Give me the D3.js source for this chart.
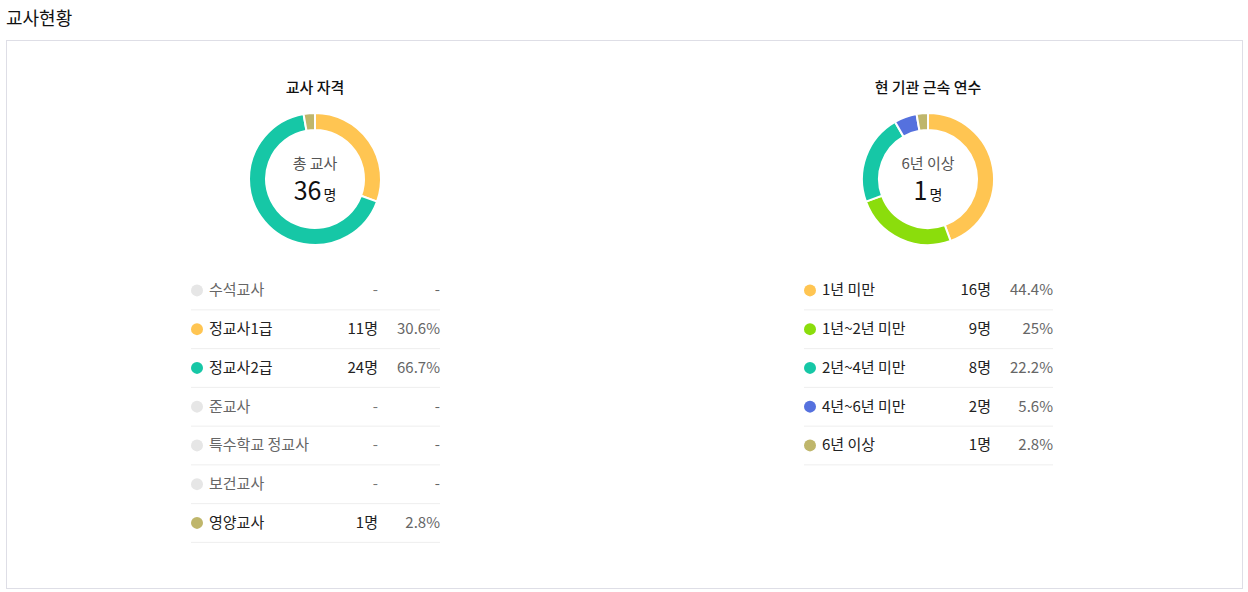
<!DOCTYPE html>
<html>
<head>
<meta charset="utf-8">
<script src="https://cdn.jsdelivr.net/npm/d3@7"></script>
<style>
  body { margin: 0; background: #fff; font-family: "Noto Sans CJK KR", "Noto Sans", sans-serif; }
</style>
</head>
<body>
<div id="chart"></div>
<script>
// 교사 자격
var qualLabels = ["수석교사", "정교사1급", "정교사2급", "준교사", "특수학교 정교사", "보건교사", "영양교사"];
var qualCounts = [0, 11, 24, 0, 0, 0, 1];
var qualPcts = [null, 30.6, 66.7, null, null, null, 2.8];
var qualColors = ["#e6e6e6", "#ffc552", "#16c7a6", "#e6e6e6", "#e6e6e6", "#e6e6e6", "#bfb66b"];

// 현 기관 근속 연수
var yearLabels = ["1년 미만", "1년~2년 미만", "2년~4년 미만", "4년~6년 미만", "6년 이상"];
var yearCounts = [16, 9, 8, 2, 1];
var yearPcts = [44.4, 25, 22.2, 5.6, 2.8];
var yearColors = ["#ffc552", "#8bdd0c", "#16c7a6", "#5571de", "#bfb66b"];

var width = 1248, height = 592;

var svg = d3.select("#chart").append("svg")
    .attr("width", width)
    .attr("height", height);

svg.append("text")
    .attr("x", 6)
    .attr("y", 25)
    .attr("font-size", 18)
    .attr("fill", "#111")
    .text("교사현황");

svg.append("rect")
    .attr("x", 6.5).attr("y", 40.5)
    .attr("width", 1236).attr("height", 548)
    .attr("fill", "none")
    .attr("stroke", "#dedee6");

function drawPanel(cx, title, labels, counts, pcts, colors, centerLabel, centerValue) {
    var g = svg.append("g");

    g.append("text")
        .attr("x", cx).attr("y", 93)
        .attr("text-anchor", "middle")
        .attr("font-size", 15)
        .attr("font-weight", 500)
        .attr("fill", "#111")
        .text(title);

    var data = counts.map(function (d, i) { return {value: d, color: colors[i]}; })
        .filter(function (d) { return d.value > 0; });

    var pie = d3.pie().sort(null).value(function (d) { return d.value; });
    var arc = d3.arc().innerRadius(49).outerRadius(66);

    var donut = g.append("g").attr("transform", "translate(" + cx + ",179)");
    donut.selectAll("path")
        .data(pie(data))
        .enter().append("path")
        .attr("d", arc)
        .attr("fill", function (d) { return d.data.color; })
        .attr("stroke", "#fff")
        .attr("stroke-width", 2);

    donut.append("text")
        .attr("y", -10)
        .attr("text-anchor", "middle")
        .attr("font-size", 15)
        .attr("fill", "#555")
        .text(centerLabel);

    var val = donut.append("text")
        .attr("y", 21)
        .attr("text-anchor", "middle")
        .attr("fill", "#111");
    val.append("tspan").attr("font-size", 25).text(centerValue);
    val.append("tspan").attr("font-size", 14).attr("dx", 2).text("명");

    // legend
    var left = cx - 124, right = cx + 125;
    var y = d3.scaleBand().domain(d3.range(labels.length))
        .range([271, 271 + 38.75 * labels.length]);

    var rows = g.selectAll(".row")
        .data(labels)
        .enter().append("g")
        .attr("class", "row")
        .attr("transform", function (d, i) { return "translate(0," + (y(i) + y.bandwidth() / 2) + ")"; });

    rows.append("circle")
        .attr("cx", left + 6).attr("cy", 0).attr("r", 6)
        .attr("fill", function (d, i) { return colors[i]; });

    rows.append("text")
        .attr("x", left + 18).attr("y", 5)
        .attr("font-size", 15)
        .attr("fill", function (d, i) { return counts[i] > 0 ? "#222" : "#666"; })
        .text(function (d) { return d; });

    rows.append("text")
        .attr("x", right - 62).attr("y", 5)
        .attr("text-anchor", "end")
        .attr("font-size", 15)
        .attr("fill", function (d, i) { return counts[i] > 0 ? "#222" : "#777"; })
        .text(function (d, i) { return counts[i] > 0 ? counts[i] + "명" : "-"; });

    rows.append("text")
        .attr("x", right).attr("y", 5)
        .attr("text-anchor", "end")
        .attr("font-size", 15)
        .attr("fill", "#666")
        .text(function (d, i) { return pcts[i] == null ? "-" : pcts[i] + "%"; });

    rows.append("line")
        .attr("x1", left).attr("x2", right)
        .attr("y1", 19.5).attr("y2", 19.5)
        .attr("stroke", "#eeeeee");
}

drawPanel(315, "교사 자격", qualLabels, qualCounts, qualPcts, qualColors, "총 교사", 36);
drawPanel(928, "현 기관 근속 연수", yearLabels, yearCounts, yearPcts, yearColors, "6년 이상", 1);
</script>
</body>
</html>
